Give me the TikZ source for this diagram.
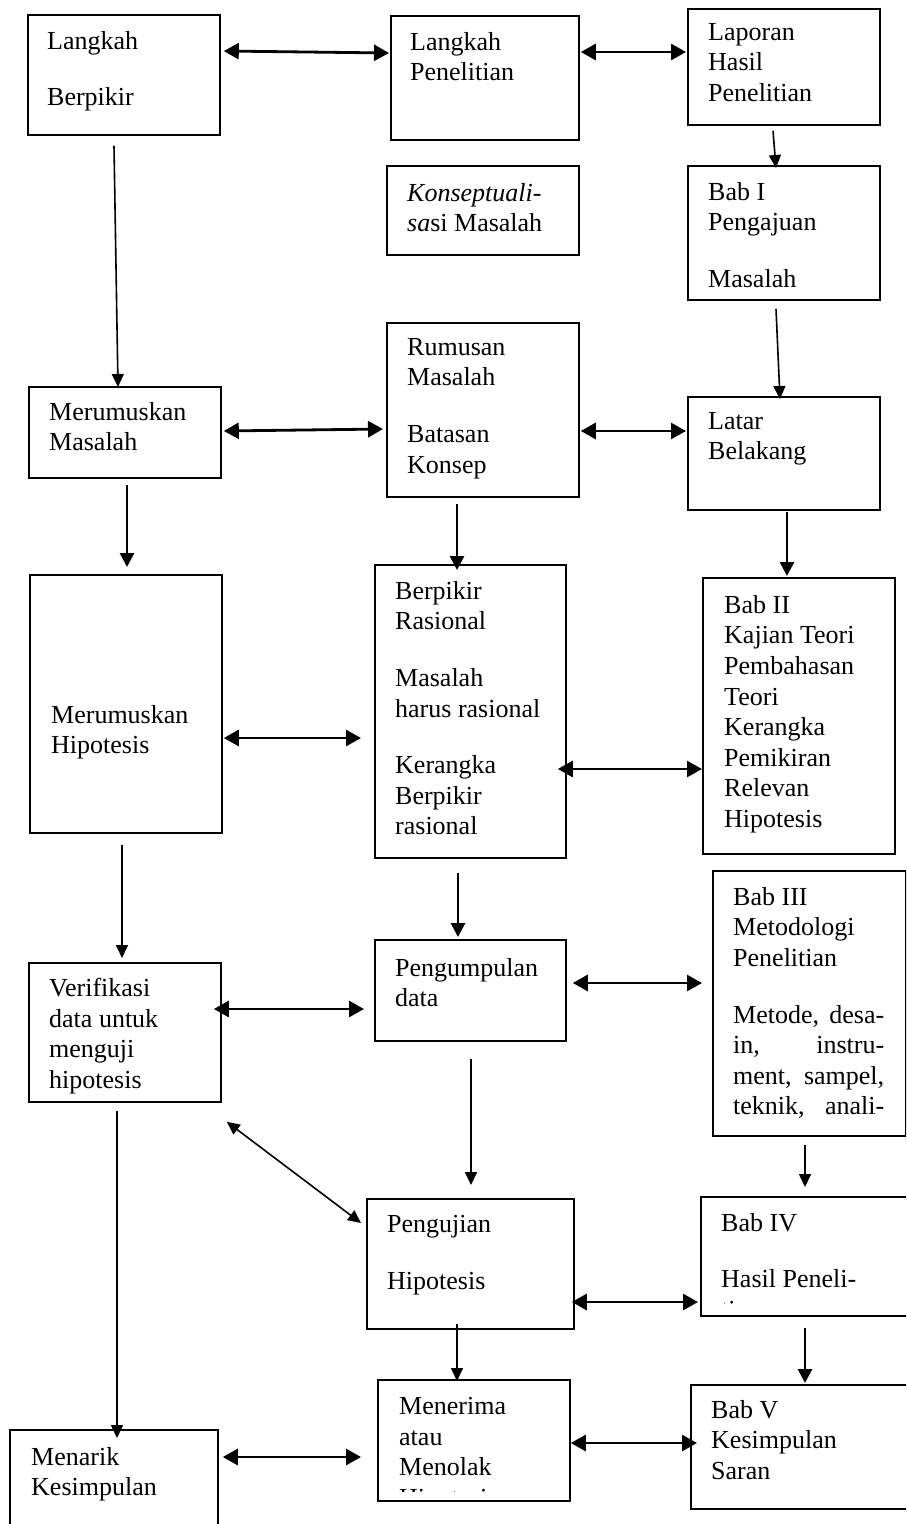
\documentclass[tikz,border=0pt]{standalone}
\usepackage{fontspec}
\setmainfont{Liberation Serif}
\usetikzlibrary{arrows.meta}
\tikzset{box/.style={rectangle,draw,line width=1.8pt,anchor=north west,inner sep=0pt},
teks/.style={anchor=north west,inner sep=0pt,align=left,font=\fontsize{26pt}{30.6pt}\selectfont},
line/.style={-{Triangle[length=13pt,width=12pt]},line width=1.6pt},
tebal/.style={-{Triangle[length=14pt,width=14pt]},line width=2.8pt},
dua/.style={{Triangle[length=15pt,width=16pt]}-{Triangle[length=15pt,width=16pt]},line width=2.8pt},
duatipis/.style={{Triangle[length=13pt,width=12pt]}-{Triangle[length=13pt,width=12pt]},line width=1.6pt}}

\begin{document}
\begin{tikzpicture}[x=1pt,y=-1pt]
\useasboundingbox (0,0) rectangle (906,1524);
\clip (0,0) rectangle (906,1524);
% kolom kiri
\node[box, minimum width=192pt, minimum height=120pt] (b1) at (27,14) {};
\node[box, minimum width=192pt, minimum height=91pt] (mm) at (28,386) {};
\node[box, minimum width=192pt, minimum height=258pt] (hip) at (29,574) {};
\node[box, minimum width=192pt, minimum height=139pt] (verif) at (28,962) {};
\node[box, minimum width=208pt, minimum height=140pt] (tarik) at (9,1429) {};
% kolom tengah
\node[box, minimum width=188pt, minimum height=124pt] (b2) at (390,15) {};
\node[box, minimum width=192pt, minimum height=89pt] (konsep) at (386,165) {};
\node[box, minimum width=192pt, minimum height=174pt] (rum) at (386,322) {};
\node[box, minimum width=191pt, minimum height=293pt] (ras) at (374,564) {};
\node[box, minimum width=191pt, minimum height=101pt] (kumpul) at (374,939) {};
\node[box, minimum width=207pt, minimum height=130pt] (uji) at (366,1198) {};
\node[box, minimum width=192pt, minimum height=121pt] (terima) at (377,1379) {};
% kolom kanan
\node[box, minimum width=192pt, minimum height=116pt] (b3) at (687,8) {};
\node[box, minimum width=192pt, minimum height=134pt] (bab1) at (687,165) {};
\node[box, minimum width=192pt, minimum height=113pt] (latar) at (687,396) {};
\node[box, minimum width=192pt, minimum height=276pt] (bab2) at (702,577) {};
\node[box, minimum width=193pt, minimum height=265pt] (bab3) at (712,870) {};
\node[box, minimum width=226pt, minimum height=119pt] (bab4) at (700,1196) {};
\node[box, minimum width=236pt, minimum height=124pt] (bab5) at (690,1384) {};
% isi kotak
\node[teks] (tb1) at ([shift={(20,17)}]b1.north west) {Langkah\\[26pt]Berpikir};
\node[teks] (tmm) at ([shift={(21,16)}]mm.north west) {Merumuskan\\Masalah};
\node[teks] (thip) at ([shift={(22,131)}]hip.north west) {Merumuskan\\Hipotesis};
\node[teks] (tverif) at ([shift={(21,16)}]verif.north west) {Verifikasi\\data untuk\\menguji\\hipotesis};
\node[teks] (ttarik) at ([shift={(22,18)}]tarik.north west) {Menarik\\Kesimpulan};
\node[teks] (tb2) at ([shift={(20,17)}]b2.north west) {Langkah\\Penelitian};
\node[teks] (tkonsep) at ([shift={(21,18)}]konsep.north west) {\textit{Konseptuali-}\\\textit{sa}si Masalah};
\node[teks] (trum) at ([shift={(21,16)}]rum.north west) {Rumusan\\Masalah\\[26pt]Batasan\\Konsep};
\node[teks] (tras) at ([shift={(21,17)}]ras.north west) {Berpikir\\Rasional\\[26pt]Masalah\\harus rasional\\[26pt]Kerangka\\Berpikir\\rasional};
\node[teks] (tkumpul) at ([shift={(21,19)}]kumpul.north west) {Pengumpulan\\data};
\node[teks] (tuji) at ([shift={(21,17)}]uji.north west) {Pengujian\\[26pt]Hipotesis};
\begin{scope}
\clip (terima.north west) rectangle ([yshift=10pt]terima.south east);
\node[teks] (tterima) at ([shift={(22,18)}]terima.north west) {Menerima\\atau\\Menolak\\Hipotesis};
\end{scope}
\node[teks] (tb3) at ([shift={(21,15)}]b3.north west) {Laporan\\Hasil\\Penelitian};
\node[teks] (tbab1) at ([shift={(21,17)}]bab1.north west) {Bab I\\Pengajuan\\[26pt]Masalah};
\node[teks] (tlatar) at ([shift={(21,16)}]latar.north west) {Latar\\Belakang};
\node[teks] (tbab2) at ([shift={(22,18)}]bab2.north west) {Bab II\\Kajian Teori\\Pembahasan\\Teori\\Kerangka\\Pemikiran\\Relevan\\Hipotesis};
\node[teks] (tbab3) at ([shift={(21,17)}]bab3.north west) {Bab III\\Metodologi\\Penelitian\\[26pt]\makebox[151pt][s]{Metode, desa-}\\\makebox[151pt][s]{in, instru-}\\\makebox[151pt][s]{ment, sampel,}\\\makebox[151pt][s]{teknik, anali-}};
\begin{scope}
\clip (bab4.north west) rectangle ([yshift=13pt]bab4.south east);
\node[teks] (tbab4) at ([shift={(21,17)}]bab4.north west) {Bab IV\\[26pt]Hasil Peneli-\\tian};
\end{scope}
\node[teks] (tbab5) at ([shift={(21,16)}]bab5.north west) {Bab V\\Kesimpulan\\Saran};
% panah mendatar
\draw[dua] ([shift={(3,37)}]b1.north east) -- ([shift={(-1,38)}]b2.north west);
\draw[dua] ([shift={(1,37)}]b2.north east) -- ([shift={(-1,44)}]b3.north west);
\draw[dua] ([shift={(2,45)}]mm.north east) -- ([shift={(-3,107)}]rum.north west);
\draw[dua] ([shift={(1,109)}]rum.north east) -- ([shift={(-1,35)}]latar.north west);
\draw[dua] ([shift={(1,164)}]hip.north east) -- ([shift={(-13,174)}]ras.north west);
\draw[dua] ([shift={(-9,205)}]ras.north east) -- ([shift={(0,192)}]bab2.north west);
\draw[dua] ([shift={(-8,47)}]verif.north east) -- ([shift={(-10,70)}]kumpul.north west);
\draw[dua] ([shift={(6,44)}]kumpul.north east) -- ([shift={(-10,113)}]bab3.north west);
\draw[dua] ([shift={(-3,104)}]uji.north east) -- ([shift={(-2,106)}]bab4.north west);
\draw[dua] ([shift={(0,64)}]terima.north east) -- ([shift={(7,59)}]bab5.north west);
\draw[dua] ([shift={(4,28)}]tarik.north east) -- ([shift={(-16,78)}]terima.north west);
\draw[duatipis] ([shift={(5,19)}]verif.south east) -- ([shift={(-5,25)}]uji.north west);
% panah menurun
\draw[line] ([shift={(87,10)}]b1.south west) -- ([shift={(90,1)}]mm.north west);
\draw[line] ([shift={(86,5)}]b3.south west) -- ([shift={(89,3)}]bab1.north west);
\draw[line] ([shift={(89,8)}]bab1.south west) -- ([shift={(93,3)}]latar.north west);
\draw[tebal] ([shift={(99,6)}]mm.south west) -- ([shift={(98,-7)}]hip.north west);
\draw[tebal] ([shift={(71,6)}]rum.south west) -- ([shift={(83,6)}]ras.north west);
\draw[tebal] ([shift={(100,1)}]latar.south west) -- ([shift={(85,-1)}]bab2.north west);
\draw[line] ([shift={(93,11)}]hip.south west) -- ([shift={(94,-4)}]verif.north west);
\draw[tebal] ([shift={(84,14)}]ras.south west) -- ([shift={(84,-2)}]kumpul.north west);
\draw[line] ([shift={(89,8)}]verif.south west) -- ([shift={(108,9)}]tarik.north west);
\draw[line] ([shift={(97,17)}]kumpul.south west) -- ([shift={(105,-13)}]uji.north west);
\draw[line] ([shift={(93,8)}]bab3.south west) -- ([shift={(105,-9)}]bab4.north west);
\draw[line] ([shift={(91,-6)}]uji.south west) -- ([shift={(80,2)}]terima.north west);
\draw[tebal] ([shift={(105,11)}]bab4.south west) -- ([shift={(115,-1)}]bab5.north west);
\end{tikzpicture}
\end{document}
